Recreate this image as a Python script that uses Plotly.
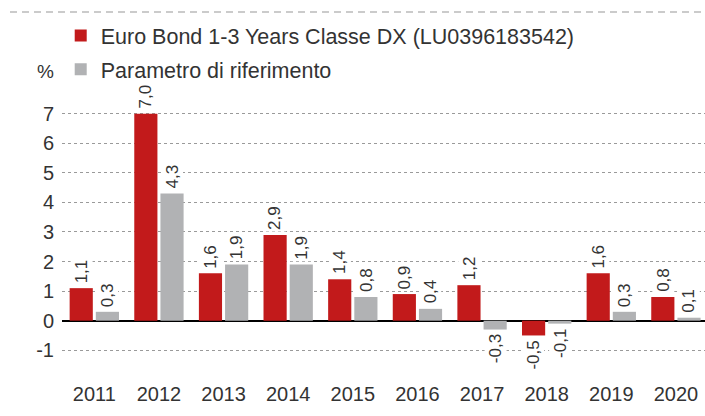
import plotly.graph_objects as go

years = ["2011", "2012", "2013", "2014", "2015", "2016", "2017", "2018", "2019", "2020"]
fund_name = "Euro Bond 1-3 Years Classe DX (LU0396183542)"
bench_name = "Parametro di riferimento"
fund = [1.1, 7.0, 1.6, 2.9, 1.4, 0.9, 1.2, -0.5, 1.6, 0.8]
bench = [0.3, 4.3, 1.9, 1.9, 0.8, 0.4, -0.3, -0.1, 0.3, 0.1]
y_ticks = [-1, 0, 1, 2, 3, 4, 5, 6, 7]

RED = "#C21A1B"
GRAY = "#B1B2B4"
TXT = "#333333"
FONT = "Liberation Sans, Arial, sans-serif"

L, R, T, B, W, H = 62, 0, 90, 48, 705, 416
PW, PH = W - L - R, H - T - B
X_RANGE = [-0.5, 9.45]
BARGAP, GROUPGAP = 0.19, 0.115
slot_px = PW / (X_RANGE[1] - X_RANGE[0]) * (1 - BARGAP) / 2


def fmt(v):
    return f"{v:.1f}".replace(".", ",")


fig = go.Figure()
annotations = []
for k, (name, vals, col) in enumerate([(fund_name, fund, RED), (bench_name, bench, GRAY)]):
    fig.add_trace(go.Bar(
        x=years, y=vals, name=name, legendgroup=f"g{k}",
        marker=dict(color=col, line=dict(width=0)),
        hoverinfo="skip",
    ))
    shift = (k - 0.5) * slot_px
    for i, v in enumerate(vals):
        pos = v >= 0
        annotations.append(dict(
            x=i, y=v, xref="x", yref="y", text=fmt(v), textangle=-90,
            showarrow=False, xshift=shift, yshift=3 if pos else -3,
            xanchor="center", yanchor="bottom" if pos else "top",
            bgcolor="white", borderpad=1,
            font=dict(size=17, color=TXT, family=FONT),
        ))

annotations.append(dict(text="%", xref="paper", yref="paper",
                        x=(45 - L) / PW, y=(H - B - 71) / PH,
                        xanchor="center", yanchor="middle", showarrow=False,
                        font=dict(size=19, color=TXT, family=FONT)))

fig.update_layout(
    width=W, height=H,
    margin=dict(l=L, r=R, t=T, b=B),
    paper_bgcolor="white", plot_bgcolor="white",
    barmode="group", bargap=BARGAP, bargroupgap=GROUPGAP,
    font=dict(family=FONT, color=TXT, size=20),
    showlegend=True,
    legend=dict(x=-0.002, y=1.27, xanchor="left", yanchor="top",
                font=dict(size=21.5, color=TXT, family=FONT),
                traceorder="grouped", tracegroupgap=3,
                bgcolor="rgba(0,0,0,0)", itemwidth=30),
    xaxis=dict(type="category", range=X_RANGE, showgrid=False, zeroline=False,
               showline=False, ticks="", tickfont=dict(size=20, color=TXT),
               ticklabelstandoff=12),
    yaxis=dict(range=[-1.6, 7.8], tickvals=y_ticks, ticktext=[str(t) for t in y_ticks],
               showgrid=True, gridcolor="#9a9a9a", griddash="dot", gridwidth=1,
               zeroline=True, zerolinecolor="#000000", zerolinewidth=1.5,
               showline=False, ticks="", tickfont=dict(size=20, color=TXT),
               ticklabelstandoff=7),
    shapes=[dict(type="line", xref="paper", yref="paper", x0=(10 - L) / PW, x1=1.0,
                 y0=(H - B - 12) / PH, y1=(H - B - 12) / PH,
                 line=dict(color="#BBBBBB", width=1.5, dash="7px,5px"))],
    annotations=annotations,
)

fig.write_html("out.html")
